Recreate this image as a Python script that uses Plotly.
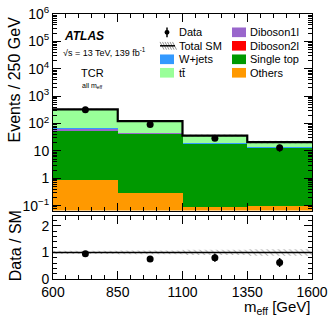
import numpy as np
import plotly.graph_objects as go

# ---------------- data ----------------
bin_edges = [600, 850, 1100, 1350, 1600]
others = [0.85, 0.30, 0.092, 0.10]
single_top = [56, 43, 18, 13]
diboson2l = [0.3, 0.2, 0.1, 0.05]
diboson1l = [9, 3, 1, 0.7]
wjets = [0.5, 0.3, 0.1, 0.1]
ttbar = [263, 76, 17, 7]
data = [315, 92, 29, 13]
sm_rel_unc = [0.06, 0.07, 0.10, 0.12]

x_tick_vals = [600, 850, 1100, 1350, 1600]
x_tick_text = ["600", "850", "1100", "1350", "1600"]
y_tick_vals = [0.1, 1, 10, 100, 1e3, 1e4, 1e5, 1e6]
y_tick_text = ["10<sup>−1</sup>", "1", "10", "10<sup>2</sup>", "10<sup>3</sup>",
               "10<sup>4</sup>", "10<sup>5</sup>", "10<sup>6</sup>"]

edges = np.array(bin_edges, dtype=float)
centers = 0.5 * (edges[:-1] + edges[1:])
widths = np.diff(edges)
total = (np.array(others) + np.array(single_top) + np.array(diboson2l)
         + np.array(diboson1l) + np.array(wjets) + np.array(ttbar))
data_a = np.array(data, dtype=float)
unc = np.array(sm_rel_unc)

FONT = "Liberation Sans, Arial, Helvetica, sans-serif"

# pixel helpers for decorations
W, H = 332, 319
L, R, T, B = 53, 20, 4, 40
PW, PH = W - L - R, H - T - B


def px(x):
    return (x - L) / PW


def py(y):
    return (H - B - y) / PH


fig = go.Figure()

stack = [
    ("Others", others, "#FF9900"),
    ("Single top", single_top, "#009900"),
    ("Diboson2l", diboson2l, "#FF0000"),
    ("Diboson1l", diboson1l, "#9966CC"),
    ("W+jets", wjets, "#3399FF"),
    ("tt̄", ttbar, "#99FF99"),
]
for name, vals, col in stack:
    fig.add_trace(go.Bar(x=centers, y=vals, width=widths, name=name,
                         marker=dict(color=col, line=dict(width=0)),
                         xaxis="x", yaxis="y", showlegend=False))


def step_poly(lo, hi):
    xs, ys = [], []
    for i in range(len(lo)):
        xs += [edges[i], edges[i + 1]]
        ys += [hi[i], hi[i]]
    for i in reversed(range(len(lo))):
        xs += [edges[i + 1], edges[i]]
        ys += [lo[i], lo[i]]
    return xs, ys


# main-panel uncertainty hatch
hx, hy = step_poly(total * (1 - unc), total * (1 + unc))
fig.add_trace(go.Scatter(x=hx, y=hy, fill="toself", mode="none",
                         fillcolor="rgba(0,0,0,0)",
                         fillpattern=dict(shape="\\", fgcolor="#555555", bgcolor="rgba(0,0,0,0)",
                                          size=4, solidity=0.25),
                         xaxis="x", yaxis="y", showlegend=False, hoverinfo="skip"))

# total SM outline
fig.add_trace(go.Scatter(x=list(edges), y=list(total) + [total[-1]], mode="lines",
                         line=dict(color="black", width=2.2, shape="hv"),
                         xaxis="x", yaxis="y", showlegend=False))

# data
fig.add_trace(go.Scatter(x=centers, y=data_a, mode="markers",
                         marker=dict(color="black", size=7),
                         error_y=dict(type="data", array=np.sqrt(data_a), color="black",
                                      thickness=1.5, width=0),
                         xaxis="x", yaxis="y", showlegend=False))

# ratio panel hatch
rx, ry = step_poly(1 - unc, 1 + unc)
fig.add_trace(go.Scatter(x=rx, y=ry, fill="toself", mode="none",
                         fillcolor="rgba(0,0,0,0)",
                         fillpattern=dict(shape="\\", fgcolor="#555555", bgcolor="rgba(0,0,0,0)",
                                          size=4, solidity=0.25),
                         xaxis="x2", yaxis="y2", showlegend=False, hoverinfo="skip"))
fig.add_trace(go.Scatter(x=[edges[0], edges[-1]], y=[1, 1], mode="lines",
                         line=dict(color="black", width=1.5),
                         xaxis="x2", yaxis="y2", showlegend=False))
fig.add_trace(go.Scatter(x=centers, y=data_a / total, mode="markers",
                         marker=dict(color="black", size=7),
                         error_y=dict(type="data", array=np.sqrt(data_a) / total, color="black",
                                      thickness=1.5, width=0),
                         xaxis="x2", yaxis="y2", showlegend=False))

main_bottom = py(208)
ratio_top = py(214)

common_x = dict(range=[600, 1600], showgrid=False, zeroline=False, showline=True,
                linecolor="black", linewidth=1, mirror="allticks", ticks="inside",
                ticklen=8, tickcolor="black", tickvals=x_tick_vals,
                minor=dict(ticks="inside", ticklen=4, dtick=50, tick0=600, tickcolor="black", showgrid=False))

fig.update_layout(
    width=W, height=H,
    margin=dict(l=L, r=R, t=T, b=B),
    paper_bgcolor="white", plot_bgcolor="white",
    font=dict(family=FONT, color="black", size=14),
    barmode="stack", bargap=0,
    showlegend=False,
    xaxis=dict(common_x, domain=[0, 1], anchor="y", showticklabels=False),
    yaxis=dict(type="log", range=[-1.18, 6.0], domain=[main_bottom, 1], anchor="x",
               showgrid=False, zeroline=False, showline=True, linecolor="black", linewidth=1,
               mirror="allticks", ticks="inside", ticklen=8, tickcolor="black",
               tickmode="array", tickvals=y_tick_vals, ticktext=y_tick_text,
               tickfont=dict(size=14), ticklabeloverflow="allow",
               minor=dict(ticks="inside", ticklen=4, dtick="D1", tickcolor="black", showgrid=False)),
    xaxis2=dict(common_x, domain=[0, 1], anchor="y2", ticktext=x_tick_text,
                tickmode="array", tickfont=dict(size=14), ticklabeloverflow="allow"),
    yaxis2=dict(range=[0, 2.36], domain=[0, ratio_top], anchor="x2",
                showgrid=False, zeroline=False, showline=True, linecolor="black", linewidth=1,
                mirror="allticks", ticks="inside", ticklen=8, tickcolor="black",
                tickvals=[0, 1, 2], tickfont=dict(size=14),
                minor=dict(ticks="inside", ticklen=4, dtick=0.2, tick0=0, tickcolor="black", showgrid=False)),
)

ann = []
ann.append(dict(text="Events / 250 GeV", x=px(15), y=py(72), xref="paper", yref="paper",
                textangle=-90, showarrow=False, font=dict(size=16), xanchor="center", yanchor="middle"))
ann.append(dict(text="Data / SM", x=px(15), y=py(245), xref="paper", yref="paper",
                textangle=-90, showarrow=False, font=dict(size=16), xanchor="center", yanchor="middle"))
ann.append(dict(text="m<sub>eff</sub> [GeV]", x=px(313), y=py(309), xref="paper", yref="paper",
                showarrow=False, font=dict(size=15), xanchor="right", yanchor="middle"))
ann.append(dict(text="<b><i>ATLAS</i></b>", x=px(62), y=py(27), xref="paper", yref="paper",
                showarrow=False, font=dict(size=12), xanchor="left", yanchor="middle"))
ann.append(dict(text="√s = 13 TeV, 139 fb<sup>-1</sup>", x=px(61), y=py(43), xref="paper", yref="paper",
                showarrow=False, font=dict(size=9), xanchor="left", yanchor="middle"))
ann.append(dict(text="TCR", x=px(92), y=py(65), xref="paper", yref="paper",
                showarrow=False, font=dict(size=11), xanchor="center", yanchor="middle"))
ann.append(dict(text="all m<sub>eff</sub>", x=px(92), y=py(79), xref="paper", yref="paper",
                showarrow=False, font=dict(size=7), xanchor="center", yanchor="middle"))

shapes = []
# legend
rows = [23, 37, 51, 65]
col1_items = [("Data", None), ("Total SM", None), ("W+jets", "#3399FF"), ("tt̄", "#99FF99")]
col2_items = [("Diboson1l", "#9966CC"), ("Diboson2l", "#FF0000"),
              ("Single top", "#009900"), ("Others", "#FF9900")]


def box(x0, x1, yc, col):
    shapes.append(dict(type="rect", xref="paper", yref="paper", x0=px(x0), x1=px(x1),
                       y0=py(yc + 5), y1=py(yc - 5), fillcolor=col, line=dict(width=0)))


for (name, col), yc in zip(col1_items, rows):
    ann.append(dict(text=name, x=px(177), y=py(yc), xref="paper", yref="paper",
                    showarrow=False, font=dict(size=11), xanchor="left", yanchor="middle"))
    if name == "Data":
        shapes.append(dict(type="circle", xref="paper", yref="paper", x0=px(164.5), x1=px(169.5),
                           y0=py(yc + 2.5), y1=py(yc - 2.5), fillcolor="black", line=dict(width=0)))
        shapes.append(dict(type="line", xref="paper", yref="paper", x0=px(167), x1=px(167),
                           y0=py(yc + 5), y1=py(yc - 5), line=dict(color="black", width=1.5)))
    elif name == "Total SM":
        for k in range(6):
            x0 = 160 + 2.5 * k
            shapes.append(dict(type="line", xref="paper", yref="paper", x0=px(x0), x1=px(x0 + 4),
                               y0=py(yc - 4), y1=py(yc + 4), line=dict(color="#777777", width=0.8)))
        shapes.append(dict(type="line", xref="paper", yref="paper", x0=px(160), x1=px(175),
                           y0=py(yc), y1=py(yc), line=dict(color="black", width=1.5)))
    else:
        box(160, 174, yc, col)

for (name, col), yc in zip(col2_items, rows):
    ann.append(dict(text=name, x=px(248), y=py(yc), xref="paper", yref="paper",
                    showarrow=False, font=dict(size=11), xanchor="left", yanchor="middle"))
    box(232, 246, yc, col)

fig.update_layout(annotations=ann, shapes=shapes)

fig.write_html("out.html", config={"displayModeBar": False},
               post_script="document.body.style.margin='0';document.body.style.padding='0';")
